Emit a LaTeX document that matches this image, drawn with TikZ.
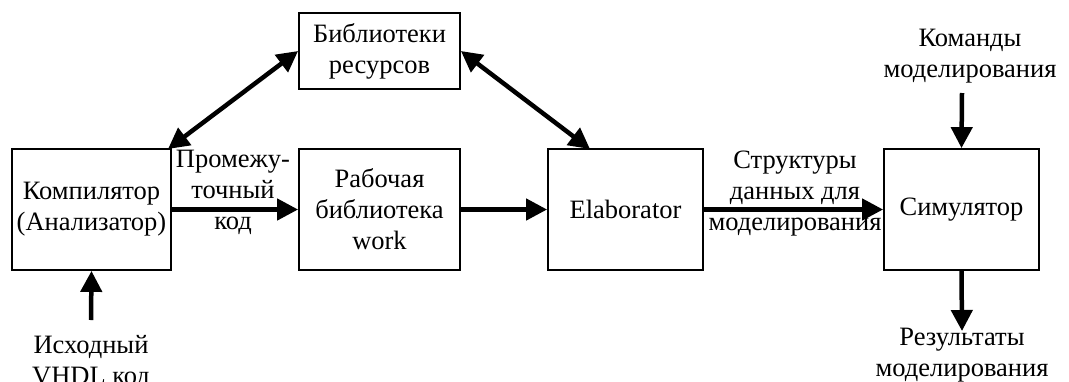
\documentclass[tikz,border=0pt]{standalone}
\usepackage{fontspec}
\setmainfont{Liberation Serif}
\usetikzlibrary{arrows.meta,calc}
\begin{document}
\begin{tikzpicture}[x=1pt,y=-1pt,
  box/.style={draw,line width=1.8pt,minimum height=121pt,inner sep=0pt,align=center,
    font=\fontsize{26.5}{31}\selectfont},
  lbl/.style={align=center,inner sep=0pt,font=\fontsize{26.5}{31}\selectfont},
  arr/.style={line width=4.5pt,-{Triangle[length=21pt,width=21pt]}},
  darr/.style={line width=4.5pt,{Triangle[length=21pt,width=21pt]}-{Triangle[length=21pt,width=21pt]}}]
\useasboundingbox (0,0) rectangle (1069,381);
\node[box,minimum width=159pt] (comp) at (91.5,209.5) {Компилятор\\(Анализатор)};
\node[box,minimum width=161pt] (work) at (379.5,209.5) {Рабочая\\библиотека\\work};
\node[box,minimum width=161pt,minimum height=76pt] (lib) at (379.5,51) {Библиотеки\\ресурсов};
\node[box,minimum width=155pt] (elab) at (625.5,209.5) {Elaborator};
\node[box,minimum width=155pt] (sim) at (961.5,209.5) {Симулятор};
\node[lbl] (src) at (91,362) {Исходный\\VHDL код};
\node[lbl] (cmd) at (970,56) {Команды\\моделирования};
\node[lbl] (res) at (962,355) {Результаты\\моделирования};
\node[lbl] (mid) at (233,192) {Промежу-\\точный\\код};
\node[lbl] (struct) at (795,194) {Структуры\\данных для\\моделирования};
\coordinate (srcTop) at (91,320);
\coordinate (cmdBot) at (962,93);
\coordinate (resTop) at (962,331);
\coordinate (elabTop) at (590,149);
\coordinate (compTop) at (168,149);
\draw[arr] (comp.east) -- (work.west);
\draw[arr] (work.east) -- (elab.west);
\draw[arr] (elab.east) -- (sim.west);
\draw[arr] (srcTop) -- (comp.south);
\draw[arr] (cmdBot) -- (sim.north);
\draw[arr] (sim.south) -- (resTop);
\draw[darr] (lib.west) -- (compTop);
\draw[darr] (lib.east) -- (elabTop);
\end{tikzpicture}
\end{document}
